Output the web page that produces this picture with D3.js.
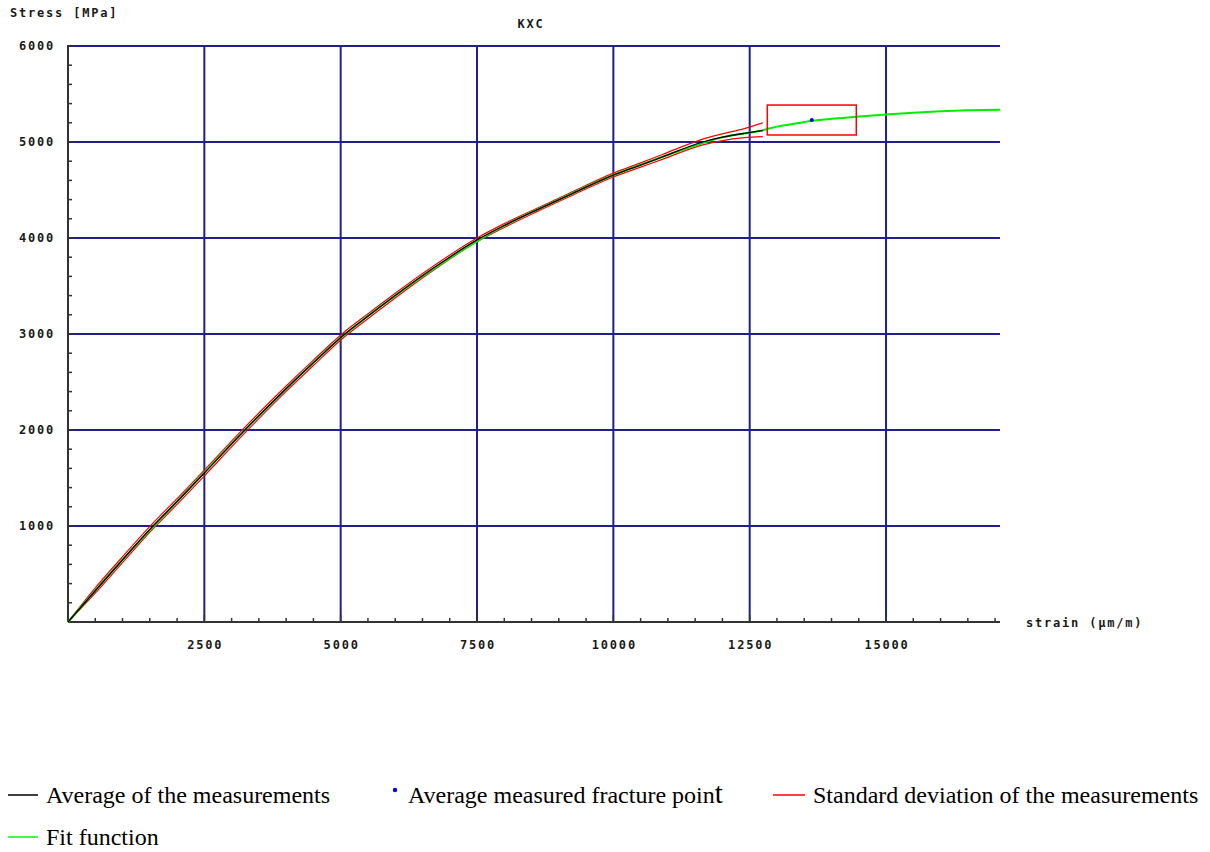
<!DOCTYPE html>
<html>
<head>
<meta charset="utf-8">
<script src="https://cdn.jsdelivr.net/npm/d3@7"></script>
<style>
  html, body { margin: 0; padding: 0; background: #fff; }
  svg { display: block; }
  .mono { font-family: "DejaVu Sans Mono", "Liberation Mono", monospace; font-size: 12px; font-weight: bold; letter-spacing: 1.8px; fill: #1a1a1a; }
  .legend { font-family: "Liberation Serif", "Times New Roman", serif; font-size: 24px; fill: #000; }
</style>
</head>
<body>
<svg id="chart" width="1210" height="852"></svg>
<script>
// Strain in µm/m, stress in MPa
const avgStrain = [0, 500, 1000, 1558, 2000, 2500, 3244, 4000, 4500, 5077, 5535, 6000, 6695, 7500, 8000, 8590, 9200, 10000, 10500, 10911, 11640, 12000, 12400, 12740];
const avgStress = [0, 325, 648, 1000, 1255, 1552, 2000, 2430, 2700, 3000, 3200, 3400, 3684, 3980, 4130, 4290, 4450, 4656, 4760, 4847, 5000, 5050, 5090, 5118];

const stdUpperStrain = [0, 500, 1000, 1558, 2000, 2500, 3244, 4000, 4500, 5077, 5535, 6000, 6695, 7500, 8000, 8590, 9200, 10000, 10500, 10911, 11640, 12000, 12400, 12740];
const stdUpperStress = [0, 355, 680, 1030, 1285, 1582, 2030, 2458, 2728, 3026, 3225, 3424, 3706, 4000, 4150, 4308, 4468, 4676, 4782, 4872, 5030, 5085, 5140, 5200];
const stdLowerStrain = [0, 500, 1000, 1558, 2000, 2500, 3244, 4000, 4500, 5077, 5535, 6000, 6695, 7500, 8000, 8590, 9200, 10000, 10500, 10911, 11640, 12000, 12400, 12740];
const stdLowerStress = [0, 300, 618, 970, 1225, 1522, 1970, 2402, 2672, 2974, 3175, 3376, 3662, 3960, 4110, 4272, 4432, 4636, 4738, 4822, 4970, 5015, 5045, 5056];

const fitStrain = [0, 1000, 2000, 3000, 4000, 5000, 6000, 7000, 8000, 9000, 10000, 11000, 12000, 12740, 13000, 13400, 13650, 14000, 14455, 15000, 15500, 16000, 16500, 17090];
const fitStress = [0, 648, 1255, 1858, 2430, 2960, 3400, 3790, 4130, 4400, 4656, 4865, 5050, 5122, 5160, 5198, 5222, 5242, 5262, 5286, 5305, 5320, 5330, 5336];

// Average fracture point and its spread (box)
const fracture = { strain: 13639, stress: 5229, strainSd: 816, stressSd: 156 };

const xMajorTicks = [2500, 5000, 7500, 10000, 12500, 15000];
const yMajorTicks = [1000, 2000, 3000, 4000, 5000, 6000];
const xTickLabels = ["2500", "5000", "7500", "10000", "12500", "15000"];
const yTickLabels = ["1000", "2000", "3000", "4000", "5000", "6000"];

const svg = d3.select("#chart");
const x = d3.scaleLinear().domain([0, 17090]).range([68, 1000]);
const y = d3.scaleLinear().domain([0, 6000]).range([622, 46]);

const navy = "#1f1f8f";
const axisColor = "#333";

// Grid
const grid = svg.append("g");
grid.selectAll("line.gx").data(xMajorTicks).join("line")
  .attr("x1", d => x(d)).attr("x2", d => x(d))
  .attr("y1", y(6000)).attr("y2", y(0))
  .attr("stroke", navy).attr("stroke-width", 2);
grid.selectAll("line.gy").data(yMajorTicks).join("line")
  .attr("x1", x(0)).attr("x2", x.range()[1])
  .attr("y1", d => y(d)).attr("y2", d => y(d))
  .attr("stroke", navy).attr("stroke-width", 2);

// Axes lines
svg.append("line").attr("x1", x(0)).attr("x2", x.range()[1]).attr("y1", y(0)).attr("y2", y(0))
  .attr("stroke", axisColor).attr("stroke-width", 2);
svg.append("line").attr("x1", x(0)).attr("x2", x(0)).attr("y1", y(0)).attr("y2", y(6000) - 1)
  .attr("stroke", axisColor).attr("stroke-width", 2);

// Minor / major ticks (inward)
const xMinor = d3.range(500, 17001, 500);
svg.append("g").selectAll("line").data(xMinor).join("line")
  .attr("x1", d => x(d)).attr("x2", d => x(d))
  .attr("y1", y(0)).attr("y2", d => y(0) - (d % 2500 === 0 ? 7 : 4))
  .attr("stroke", axisColor).attr("stroke-width", 1.5);
const yMinor = d3.range(200, 6001, 200);
svg.append("g").selectAll("line").data(yMinor).join("line")
  .attr("x1", x(0)).attr("x2", d => x(0) + (d % 1000 === 0 ? 7 : 4))
  .attr("y1", d => y(d)).attr("y2", d => y(d))
  .attr("stroke", axisColor).attr("stroke-width", 1.5);

// Tick labels
svg.append("g").selectAll("text").data(xMajorTicks).join("text")
  .attr("class", "mono").attr("x", d => x(d) + 1).attr("y", 649)
  .attr("text-anchor", "middle").text((d, i) => xTickLabels[i]);
svg.append("g").selectAll("text").data(yMajorTicks).join("text")
  .attr("class", "mono").attr("x", 55).attr("y", d => y(d) + 4)
  .attr("text-anchor", "end").text((d, i) => yTickLabels[i]);

// Axis titles and chart title
svg.append("text").attr("class", "mono").attr("x", 10).attr("y", 17).text("Stress [MPa]");
svg.append("text").attr("class", "mono").attr("x", 531).attr("y", 28).attr("text-anchor", "middle").text("KXC");
svg.append("text").attr("class", "mono").attr("x", 1026).attr("y", 627).text("strain (µm/m)");

// Curves
const line = d3.line().x(d => x(d[0])).y(d => y(d[1])).curve(d3.curveMonotoneX);
const zip = (a, b) => a.map((v, i) => [v, b[i]]);

const curves = svg.append("g").attr("fill", "none");
curves.append("path").attr("d", line(zip(stdUpperStrain, stdUpperStress)))
  .attr("stroke", "#ff0000").attr("stroke-width", 1.2);
curves.append("path").attr("d", line(zip(stdLowerStrain, stdLowerStress)))
  .attr("stroke", "#ff0000").attr("stroke-width", 1.2);
curves.append("path").attr("d", line(zip(fitStrain, fitStress)))
  .attr("stroke", "#00ee00").attr("stroke-width", 2);
curves.append("path").attr("d", line(zip(avgStrain, avgStress)))
  .attr("stroke", "#000").attr("stroke-width", 1.3);

// Fracture box and point
svg.append("rect")
  .attr("x", x(fracture.strain - fracture.strainSd))
  .attr("y", y(fracture.stress + fracture.stressSd))
  .attr("width", x(fracture.strain + fracture.strainSd) - x(fracture.strain - fracture.strainSd))
  .attr("height", y(fracture.stress - fracture.stressSd) - y(fracture.stress + fracture.stressSd))
  .attr("fill", "none").attr("stroke", "#ff0000").attr("stroke-width", 1.5);
svg.append("circle").attr("cx", x(fracture.strain)).attr("cy", y(fracture.stress)).attr("r", 2)
  .attr("fill", "#0000ff");

// Legend
const lg = svg.append("g");
lg.append("line").attr("x1", 8).attr("x2", 38).attr("y1", 795).attr("y2", 795).attr("stroke", "#000").attr("stroke-width", 1.5);
lg.append("text").attr("class", "legend").attr("x", 46).attr("y", 803).text("Average of the measurements");
lg.append("circle").attr("cx", 395).attr("cy", 790).attr("r", 2.2).attr("fill", "#0000ff");
const t2 = lg.append("text").attr("class", "legend").attr("x", 408).attr("y", 803);
t2.append("tspan").text("Average measured fracture poin");
t2.append("tspan").style("font-size", "29px").text("t");
lg.append("line").attr("x1", 773).attr("x2", 805).attr("y1", 795).attr("y2", 795).attr("stroke", "#ff0000").attr("stroke-width", 1.5);
lg.append("text").attr("class", "legend").attr("x", 813).attr("y", 803).text("Standard deviation of the measurements");
lg.append("line").attr("x1", 8).attr("x2", 38).attr("y1", 837).attr("y2", 837).attr("stroke", "#00ff00").attr("stroke-width", 1.5);
lg.append("text").attr("class", "legend").attr("x", 46).attr("y", 845).text("Fit function");
</script>
</body>
</html>
